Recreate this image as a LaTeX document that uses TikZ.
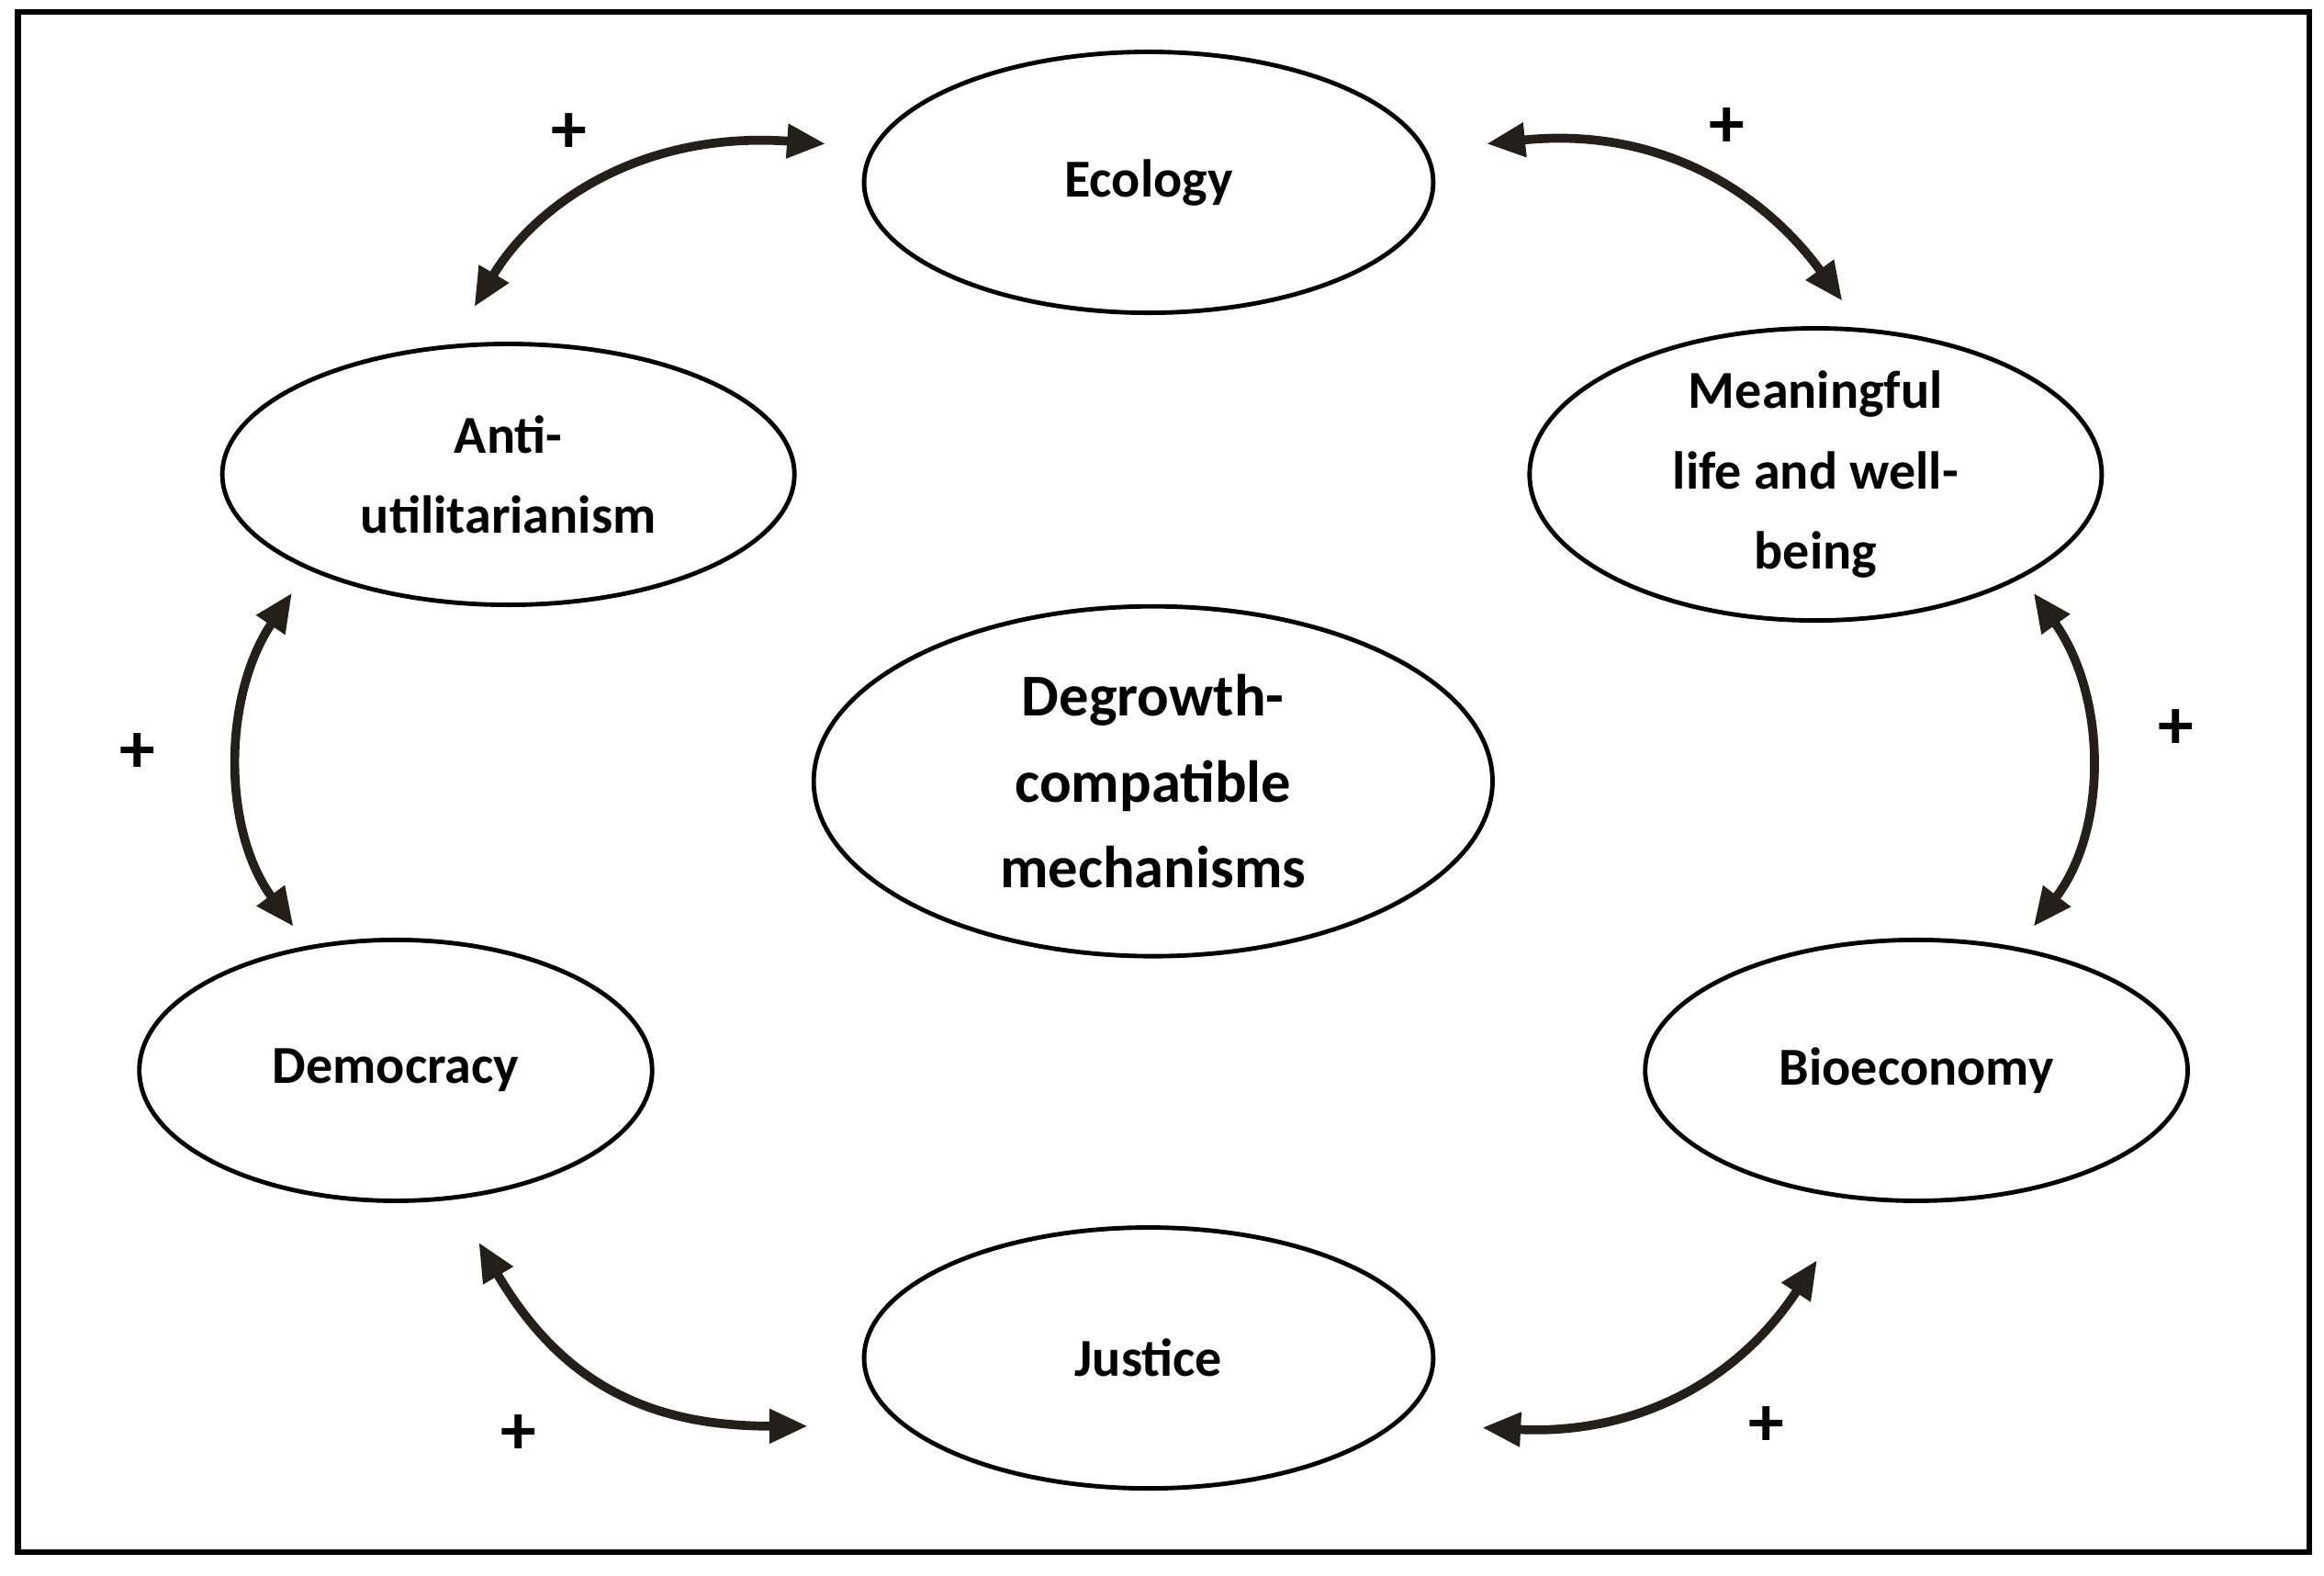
\documentclass[tikz,border=0pt]{standalone}
\usepackage{fontspec}
\setmainfont{Carlito}
\usetikzlibrary{arrows.meta}
\definecolor{arr}{HTML}{231F1A}
\tikzset{
 ell/.style={draw=black,line width=3pt,ellipse,inner sep=0pt,align=center,font=\bfseries\fontsize{36}{54}\selectfont},
 conn/.style={arr,line width=6pt,{Triangle[length=26pt,width=22pt]}-{Triangle[length=26pt,width=22pt]}},
 plus/.style={font=\bfseries\fontsize{48}{48}\selectfont}
}
\usetikzlibrary{shapes.geometric}
\begin{document}
\begin{tikzpicture}[x=1pt,y=-1pt]
\useasboundingbox (0,0) rectangle (1568,1063);
\draw[line width=4pt] (12,8) rectangle (1558,1047);
\node[ell,minimum width=384pt,minimum height=176pt] (eco) at (775,123) {Ecology};
\node[ell,minimum width=386pt,minimum height=176pt] (anti) at (343,320) {Anti-\\utilitarianism};
\node[ell,minimum width=386pt,minimum height=176pt] (mean) at (1225,320) {Meaningful\\life and well-\\being};
\node[ell,minimum width=458pt,minimum height=236pt,font=\bfseries\fontsize{40}{58}\selectfont] (deg) at (778,527) {Degrowth-\\compatible\\mechanisms};
\node[ell,minimum width=346pt,minimum height=176pt] (dem) at (267,722) {Democracy};
\node[ell,minimum width=366pt,minimum height=176pt] (bio) at (1293,722) {Bioeconomy};
\node[ell,minimum width=384pt,minimum height=176pt] (jus) at (775,916) {Justice};
\coordinate (a1) at (557,97); \coordinate (a2) at (320,207);
\coordinate (b1) at (1003,97); \coordinate (b2) at (1243,203);
\coordinate (c1) at (197,400); \coordinate (c2) at (198,625);
\coordinate (d1) at (1372,400); \coordinate (d2) at (1372,625);
\coordinate (e1) at (323,838); \coordinate (e2) at (545,962);
\coordinate (f1) at (1226,850); \coordinate (f2) at (1000,963);
\draw[conn] (a1) .. controls (430,88) and (360,140) .. (a2);
\draw[conn] (b1) .. controls (1120,85) and (1190,130) .. (b2);
\draw[conn] (c1) .. controls (150,470) and (150,560) .. (c2);
\draw[conn] (d1) .. controls (1422,470) and (1422,560) .. (d2);
\draw[conn] (e1) .. controls (380,935) and (440,962) .. (e2);
\draw[conn] (f1) .. controls (1170,935) and (1100,968) .. (f2);
\node[plus] (p1) at (384,90) {+};
\node[plus] (p2) at (1165,86) {+};
\node[plus] (p3) at (93,508) {+};
\node[plus] (p4) at (1468,492) {+};
\node[plus] (p5) at (350,968) {+};
\node[plus] (p6) at (1192,962) {+};
\end{tikzpicture}
\end{document}
